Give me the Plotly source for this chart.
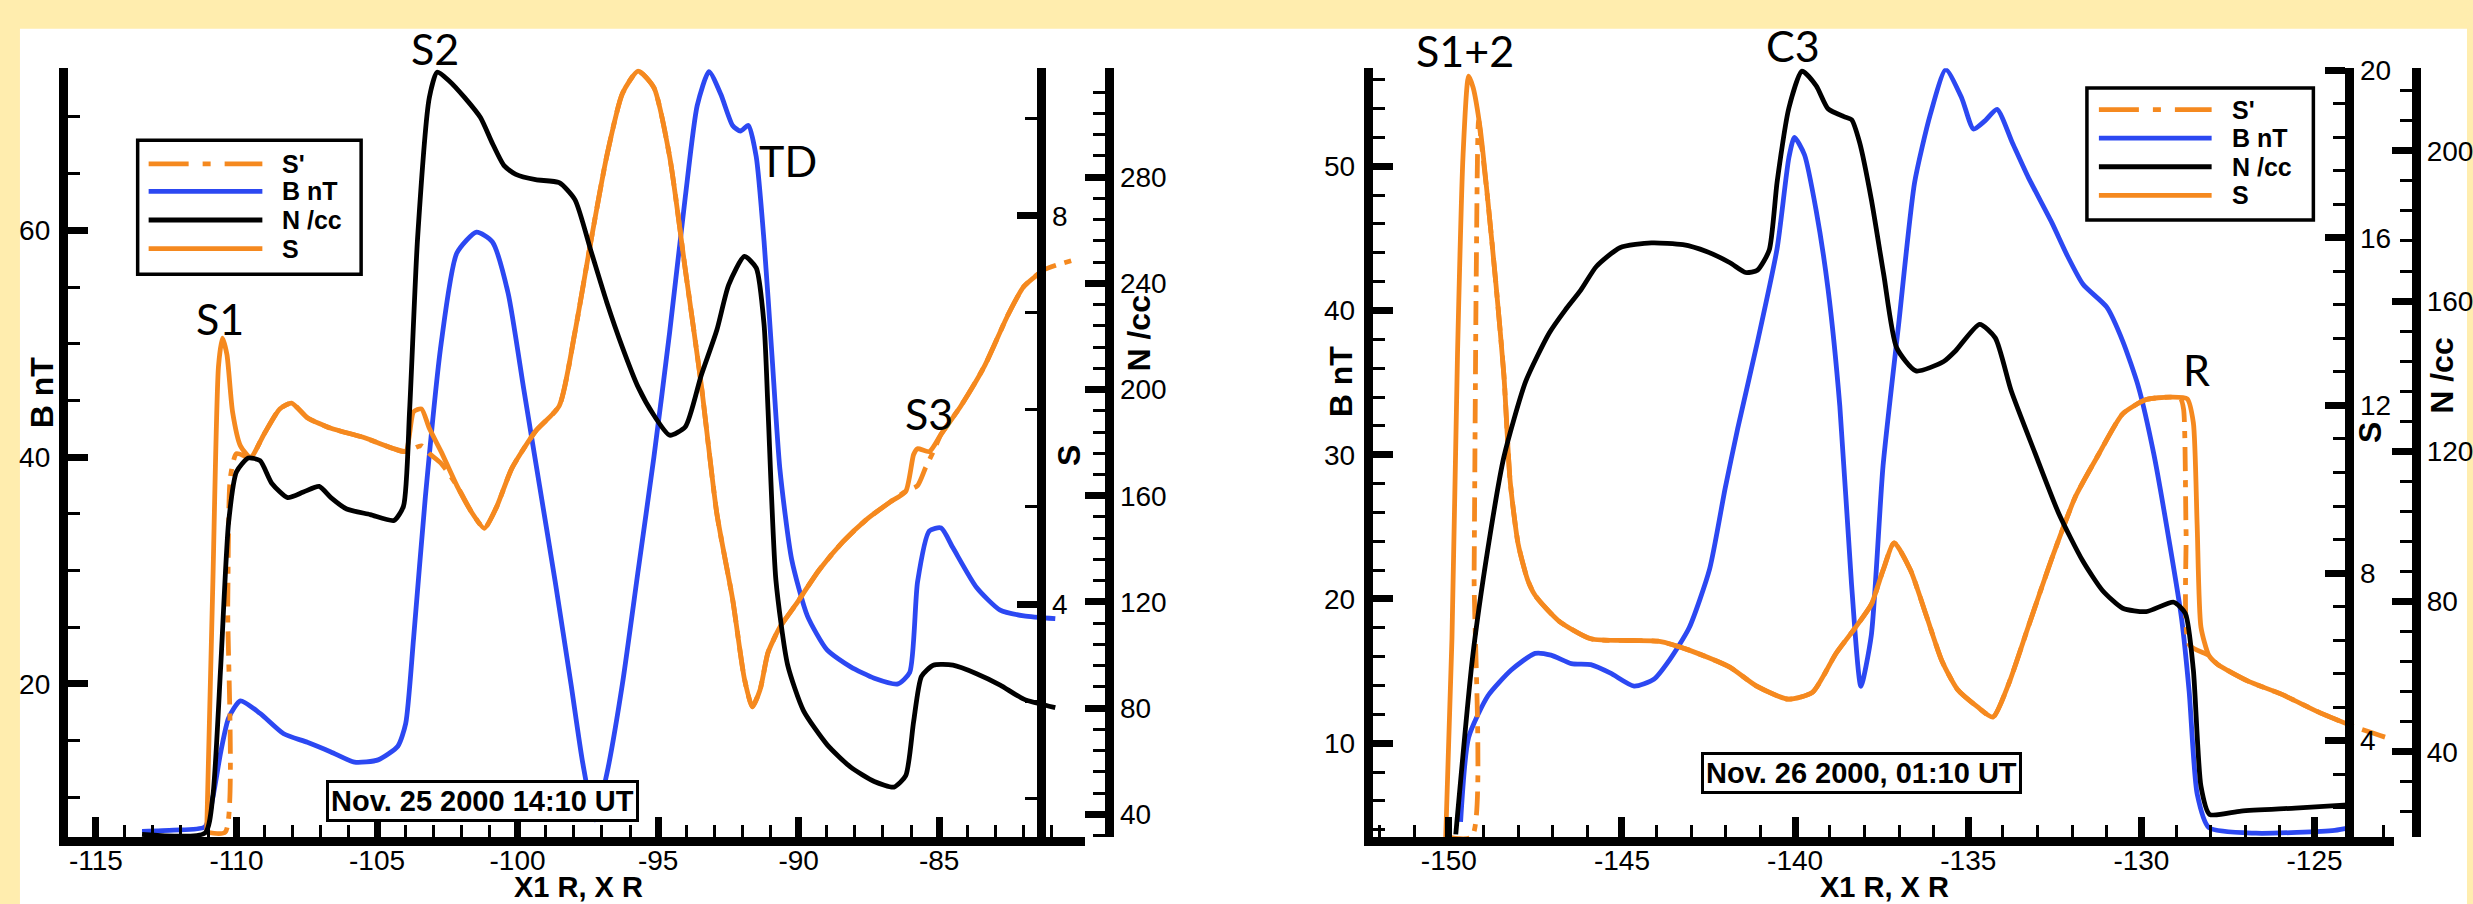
import plotly.graph_objects as go

W, H = 2473, 904

# ---------------- Left panel: Nov. 25 2000 14:10 UT ----------------
left_B_x = [-113.36, -112.24, -111.12, -110.84, -110.56, -110.28, -109.86, -109.16, -108.32, -107.48,
            -106.64, -105.8, -104.96, -104.26, -103.98, -103.70, -103.28, -102.72, -102.16, -101.46,
            -100.90, -100.34, -99.78, -99.22, -98.66, -98.10, -97.68, -97.25, -96.83, -96.27,
            -95.71, -95.15, -94.59, -94.03, -93.61, -93.19, -92.77, -92.35, -92.07, -91.79,
            -91.51, -91.23, -90.95, -90.67, -90.25, -89.69, -88.99, -88.15, -87.31, -86.47,
            -86.05, -85.77, -85.35, -84.93, -84.51, -83.67, -82.83, -81.99, -80.87]
left_B = [7.0, 7.1, 7.4, 10.0, 14.0, 17.0, 18.5, 17.4, 15.6, 14.85,
          14.0, 13.1, 13.3, 14.5, 16.5, 24, 36.5, 50, 58, 59.85,
          59, 54.5, 46, 37.5, 29, 20, 13, 8, 12, 20,
          30, 40, 51, 63, 71, 74, 72, 69.25, 68.75, 69.25,
          66.5, 59, 49, 39, 31, 26, 23, 21.5, 20.5, 20,
          21, 29, 33.5, 33.75, 32, 28.5, 26.5, 26, 25.75]

left_N_x = [-113.36, -111.12, -110.84, -110.56, -110.28, -110.0, -109.58, -109.16, -108.74, -108.18,
            -107.62, -107.06, -106.64, -106.08, -105.24, -104.40, -104.06, -103.84, -103.56, -103.14,
            -102.86, -102.44, -101.88, -101.32, -100.90, -100.48, -100.06, -99.36, -98.52, -97.96,
            -97.39, -96.83, -96.27, -95.71, -95.15, -94.59, -94.03, -93.47, -92.91, -92.49,
            -91.93, -91.51, -91.23, -91.09, -90.81, -90.39, -89.83, -88.99, -88.15, -87.31,
            -86.61, -86.19, -85.91, -85.63, -85.21, -84.51, -83.67, -82.83, -81.99, -80.87]
left_N = [32.5, 33.0, 47, 96, 150, 169, 174.2, 173.2, 164.6, 159.3,
          161.4, 163.5, 159.3, 155, 152.9, 150.7, 156, 192.4, 256.5, 309.9,
          319.5, 316.3, 309.9, 302.4, 292.8, 284.3, 281, 279, 277.9, 271.5,
          252.2, 233, 215.9, 200.9, 190.3, 182.8, 186, 205.2, 222.4, 239.4,
          250.1, 245.8, 224.4, 192.4, 128.3, 96.2, 79.1, 66.3, 57.8, 52.4,
          50.3, 54.6, 74.9, 92, 96.2, 96.2, 93, 88.7, 83.4, 80.2]

left_S_x = [-111.06, -110.84, -110.64, -110.50, -110.34, -110.14, -109.86, -109.50, -109.02, -108.46,
            -108.04, -107.48, -106.64, -105.52, -104.40, -103.98, -103.70, -103.42, -103.14, -102.72,
            -102.16, -101.60, -101.18, -100.76, -100.20, -99.36, -98.52, -97.96, -97.39, -96.83,
            -96.27, -95.71, -95.15, -94.59, -94.03, -93.47, -92.91, -92.35, -91.93, -91.65,
            -91.37, -91.09, -90.67, -90.11, -89.27, -88.43, -87.59, -86.75, -86.19, -85.91,
            -85.77, -85.35, -84.93, -84.23, -83.39, -82.55, -81.99, -81.29]
left_S = [1.65, 4.23, 6.45, 6.74, 6.57, 5.98, 5.63, 5.51, 5.75, 6.01,
          6.07, 5.92, 5.81, 5.72, 5.6, 5.57, 5.98, 6.01, 5.81, 5.57,
          5.22, 4.93, 4.78, 4.99, 5.4, 5.78, 6.04, 6.8, 7.74, 8.61,
          9.26, 9.49, 9.32, 8.61, 7.44, 6.27, 4.93, 4.05, 3.23, 2.94,
          3.12, 3.5, 3.76, 3.99, 4.35, 4.64, 4.87, 5.05, 5.16, 5.54,
          5.6, 5.57, 5.75, 6.04, 6.45, 6.98, 7.27, 7.44]

left_Sp_x = [-111.06, -110.40, -110.31, -110.22, -110.0, -109.50, -109.02, -108.46, -108.04, -107.48,
             -106.64, -105.52, -104.40, -103.98, -103.42, -103.14, -102.72, -102.16, -101.60, -101.18,
             -100.76, -100.20, -99.36, -98.52, -97.96, -97.39, -96.83, -96.27, -95.71, -95.15,
             -94.59, -94.03, -93.47, -92.91, -92.35, -91.93, -91.65, -91.37, -91.09, -90.67,
             -90.11, -89.27, -88.43, -87.59, -86.75, -86.19, -85.77, -85.49, -85.21, -84.93,
             -84.23, -83.39, -82.55, -81.99, -81.29, -80.73, -80.03]
left_Sp = [1.65, 1.65, 4.0, 5.3, 5.55, 5.51, 5.75, 6.01, 6.07, 5.92,
           5.81, 5.72, 5.6, 5.57, 5.63, 5.55, 5.45, 5.22, 4.93, 4.78,
           4.99, 5.4, 5.78, 6.04, 6.8, 7.74, 8.61, 9.26, 9.49, 9.32,
           8.61, 7.44, 6.27, 4.93, 4.05, 3.23, 2.94, 3.12, 3.5, 3.76,
           3.99, 4.35, 4.64, 4.87, 5.05, 5.16, 5.22, 5.4, 5.57, 5.75,
           6.04, 6.45, 6.98, 7.27, 7.44, 7.5, 7.56]

# ---------------- Right panel: Nov. 26 2000, 01:10 UT ----------------
right_B_x = [-149.66, -149.43, -148.87, -148.19, -147.51, -147.05, -146.46, -145.90, -145.33, -144.65,
             -144.08, -143.63, -143.06, -142.47, -142.02, -141.66, -141.09, -140.52, -140.18, -140.02,
             -139.73, -139.39, -139.05, -138.71, -138.37, -138.10, -137.80, -137.46, -137.01, -136.55,
             -136.10, -135.65, -135.19, -134.85, -134.51, -134.17, -133.72, -133.27, -132.59, -132.13,
             -131.68, -131.0, -130.54, -130.09, -129.64, -129.18, -128.84, -128.62, -128.39, -128.05,
             -126.69, -124.42, -123.97]
right_B = [4.55, 10.39, 13.29, 15.09, 16.23, 16.11, 15.52, 15.45, 14.86, 13.96,
           14.43, 15.76, 18.0, 22.07, 27.68, 31.8, 37.8, 44.3, 50.6, 52.0,
           50.8, 46.9, 41.5, 33.4, 21.0, 13.95, 17.48, 29.25, 39.05, 48.86,
           53.56, 56.7, 54.74, 52.58, 53.17, 53.95, 51.6, 49.25, 46.11, 43.76,
           41.8, 40.23, 37.88, 34.74, 30.03, 23.76, 18.66, 13.56, 6.5, 4.15,
           3.76, 3.96, 4.15]

right_N_x = [-149.80, -149.32, -148.87, -148.41, -147.78, -147.10, -146.64, -146.19, -145.74, -145.06,
             -144.15, -143.24, -142.56, -141.88, -141.43, -141.09, -140.75, -140.52, -140.18, -139.80,
             -139.39, -139.05, -138.59, -138.37, -138.14, -137.80, -137.44, -137.07, -136.51, -135.71,
             -135.37, -134.67, -134.22, -133.76, -133.08, -132.38, -131.70, -131.13, -130.54, -129.86,
             -129.07, -128.73, -128.50, -128.28, -128.03, -127.12, -125.56, -123.92]
right_N = [18.0, 64.7, 94.2, 118.5, 138.6, 151.5, 157.6, 162.9, 169.2, 174.2,
           175.5, 175.0, 173.2, 170.2, 167.6, 168.2, 173.5, 191.7, 211.4, 221.2,
           217.3, 211.2, 209.1, 208.3, 202.3, 187.1, 167.0, 147.6, 141.4, 143.9,
           146.7, 153.8, 150.2, 136.1, 119.7, 103.3, 90.9, 83.0, 78.2, 77.3,
           79.8, 76.8, 61.8, 30.8, 23.3, 24.2, 25.0, 25.9]

right_S_x = [-150.09, -149.91, -149.75, -149.59, -149.43, -149.30, -149.09, -148.87, -148.64, -148.41,
             -148.23, -148.0, -147.73, -147.51, -146.83, -145.90, -144.76, -143.92, -143.06, -141.90,
             -141.11, -140.20, -139.50, -138.82, -138.25, -137.80, -137.46, -137.14, -136.67, -136.21,
             -135.76, -135.31, -134.74, -134.29, -133.83, -133.27, -132.59, -131.90, -131.25, -130.54,
             -129.86, -129.18, -128.68, -128.50, -128.39, -128.28, -128.05, -127.80, -126.92, -125.96,
             -124.88, -123.92]
right_S = [1.7, 6.44, 13.22, 17.97, 19.86, 19.59, 18.58, 16.86, 14.9, 12.72,
           10.2, 8.7, 7.85, 7.47, 6.86, 6.43, 6.39, 6.37, 6.16, 5.76,
           5.3, 4.99, 5.15, 6.08, 6.71, 7.25, 8.07, 8.72, 8.07, 6.98,
           5.9, 5.22, 4.81, 4.56, 5.36, 6.71, 8.34, 9.83, 10.81, 11.8,
           12.14, 12.2, 12.16, 11.59, 9.15, 6.71, 6.03, 5.82, 5.42, 5.11,
           4.68, 4.35]

right_Sp_x = [-150.09, -149.34, -149.27, -149.21, -149.14, -149.05, -148.87, -148.64, -148.41, -148.23,
              -148.0, -147.73, -147.51, -146.83, -145.90, -144.76, -143.92, -143.06, -141.90, -141.11,
              -140.20, -139.50, -138.82, -138.25, -137.80, -137.46, -137.14, -136.67, -136.21, -135.76,
              -135.31, -134.74, -134.29, -133.83, -133.27, -132.59, -131.90, -131.25, -130.54, -129.86,
              -129.18, -128.87, -128.78, -128.71, -128.62, -128.05, -127.80, -126.92, -125.96, -124.88,
              -123.92, -122.95]
right_Sp = [1.7, 1.7, 8.0, 15.0, 18.8, 18.2, 16.86, 14.9, 12.72, 10.2,
            8.7, 7.85, 7.47, 6.86, 6.43, 6.39, 6.37, 6.16, 5.76, 5.3,
            4.99, 5.15, 6.08, 6.71, 7.25, 8.07, 8.72, 8.07, 6.98, 5.9,
            5.22, 4.81, 4.56, 5.36, 6.71, 8.34, 9.83, 10.81, 11.8, 12.14,
            12.2, 12.16, 11.9, 9.0, 6.29, 6.03, 5.82, 5.42, 5.11, 4.68,
            4.35, 4.08]

# ---------------- tick values / labels ----------------
left_x_major = [-115, -110, -105, -100, -95, -90, -85]
left_x_labels = ["-115", "-110", "-105", "-100", "-95", "-90", "-85"]
left_x_minor = list(range(-116, -80))
left_B_major = [20, 40, 60]
left_B_minor = [10, 15, 25, 30, 35, 45, 50, 55, 65, 70]
left_S_major = [4, 8]
left_S_minor = [2, 3, 5, 6, 7, 9]
left_N_major = [40, 80, 120, 160, 200, 240, 280]
left_N_minor = [v for v in range(32, 321, 8) if v % 40]

right_x_major = [-150, -145, -140, -135, -130, -125]
right_x_labels = ["-150", "-145", "-140", "-135", "-130", "-125"]
right_x_minor = list(range(-152, -122))
right_B_major = [10, 20, 30, 40, 50]
right_B_minor = [v for v in range(4, 57, 2) if v % 10]
right_S_major = [4, 8, 12, 16, 20]
right_S_minor = [round(2.4 + 0.8 * k, 2) for k in range(23) if round((2.4 + 0.8 * k) % 4, 2) not in (0.0, 4.0)]
right_N_major = [40, 80, 120, 160, 200]
right_N_minor = [v for v in range(24, 217, 8) if v % 40]

ORANGE = "#F5891F"
BLUE = "#2C48F2"
BLACK = "#000000"
FONT = "Liberation Sans, Arial, sans-serif"
TICKFONT = dict(family=FONT, size=28, color="black")


def px(xp):
    return xp / W


def py(yp):
    return 1 - yp / H


YDOM = [py(836), py(56)]


def axis(major, labels, minor, rng, **kw):
    d = dict(range=rng, tickmode="array", tickvals=major, ticktext=labels,
             showline=True, linecolor="black", linewidth=9,
             ticks="inside", ticklen=20, tickwidth=7, tickcolor="black",
             showgrid=False, zeroline=False, tickfont=TICKFONT, fixedrange=True,
             minor=dict(tickmode="array", tickvals=minor, ticks="inside", ticklen=12,
                        tickwidth=3, tickcolor="black", showgrid=False))
    d.update(kw)
    return d


fig = go.Figure()


def line(x, y, xa, ya, color, name, dash="solid"):
    fig.add_trace(go.Scatter(x=x, y=y, xaxis=xa, yaxis=ya, mode="lines", name=name,
                             line=dict(color=color, width=4.8, dash=dash, shape="spline", smoothing=0.6),
                             showlegend=False, hoverinfo="skip"))


SPDASH = "24px,9px,7px,9px"
# left panel
line(left_N_x, left_N, "x", "y3", BLACK, "N /cc")
line(left_B_x, left_B, "x", "y", BLUE, "B nT")
line(left_S_x, left_S, "x", "y2", ORANGE, "S")
line(left_Sp_x, left_Sp, "x", "y2", ORANGE, "S'", SPDASH)
# right panel
line(right_N_x, right_N, "x2", "y6", BLACK, "N /cc")
line(right_B_x, right_B, "x2", "y4", BLUE, "B nT")
line(right_S_x, right_S, "x2", "y5", ORANGE, "S")
line(right_Sp_x, right_Sp, "x2", "y5", ORANGE, "S'", SPDASH)

layout = dict(
    width=W, height=H, margin=dict(l=0, r=0, t=0, b=0),
    paper_bgcolor="#FFEDAE", plot_bgcolor="rgba(0,0,0,0)", showlegend=False,
    xaxis=axis(left_x_major, left_x_labels, left_x_minor, [-116.0, -79.8],
               domain=[px(68), px(1088)], anchor="y", ticklabelstandoff=-10),
    yaxis=axis(left_B_major, [str(v) for v in left_B_major], left_B_minor, [6.5, 74.3],
               domain=YDOM, anchor="x", side="left", ticklabelstandoff=3),
    yaxis2=axis(left_S_major, [str(v) for v in left_S_major], left_S_minor, [1.6, 9.52],
                overlaying="y", anchor="free", position=px(1044), side="right"),
    yaxis3=axis(left_N_major, [str(v) for v in left_N_major], left_N_minor, [31.5, 321],
                overlaying="y", anchor="free", position=px(1112), side="right"),
    xaxis2=axis(right_x_major, right_x_labels, right_x_minor, [-152.2, -122.7],
                domain=[px(1376), px(2400)], anchor="y4", ticklabelstandoff=-10),
    yaxis4=axis(right_B_major, [str(v) for v in right_B_major], right_B_minor, [3.5, 56.8],
                domain=YDOM, anchor="x2", side="left", ticklabelstandoff=3),
    yaxis5=axis(right_S_major, [str(v) for v in right_S_major], right_S_minor, [1.7, 20.05],
                overlaying="y4", anchor="free", position=px(2355), side="right"),
    yaxis6=axis(right_N_major, [str(v) for v in right_N_major], right_N_minor, [17.3, 222],
                overlaying="y4", anchor="free", position=px(2422), side="right"),
)
fig.update_layout(**layout)

shapes = [dict(type="rect", xref="paper", yref="paper", x0=px(20), x1=1, y0=0, y1=py(16),
               fillcolor="white", line=dict(width=0), layer="below")]
annotations = []


def legend(box, lx0, lx1, tx, rows):
    x0, y0, x1, y1 = box
    shapes.append(dict(type="rect", xref="paper", yref="paper", x0=px(x0), x1=px(x1), y0=py(y1), y1=py(y0),
                       fillcolor="white", line=dict(color="black", width=3.5), layer="above"))
    items = [("S'", ORANGE, "40px,14px,8px,14px"), ("B nT", BLUE, "solid"),
             ("N /cc", BLACK, "solid"), ("S", ORANGE, "solid")]
    for (name, col, dash), ry in zip(items, rows):
        shapes.append(dict(type="line", xref="paper", yref="paper", x0=px(lx0), x1=px(lx1),
                           y0=py(ry), y1=py(ry), line=dict(color=col, width=4.8, dash=dash), layer="above"))
        annotations.append(dict(xref="paper", yref="paper", x=px(tx), y=py(ry), text="<b>%s</b>" % name,
                                showarrow=False, xanchor="left", yanchor="middle",
                                font=dict(family=FONT, size=25, color="black")))


legend((138, 129, 362, 265), 149, 263, 281, [153, 181, 210, 239])
legend((2092, 76, 2319, 210), 2104, 2217, 2235, [98, 127, 156, 185])


def text(x, y, s, size=32, angle=0, family=FONT, bold=True, yanchor="middle", **kw):
    annotations.append(dict(xref="paper", yref="paper", x=px(x), y=py(y),
                            text=("<b>%s</b>" % s) if bold else s, showarrow=False,
                            textangle=angle, xanchor="center", yanchor=yanchor,
                            font=dict(family=family, size=size, color="black"), **kw))


# axis titles
text(43, 385, "B nT", angle=-90)
text(1071, 449, "S", angle=-90)
text(1142, 325, "N /cc", angle=-90)
text(580, 904, "X1 R, X R", size=29, yanchor="bottom", borderpad=0)
text(1344, 374, "B nT", angle=-90)
text(2376, 426, "S", angle=-90)
text(2448, 368, "N /cc", angle=-90)
text(1889, 904, "X1 R, X R", size=29, yanchor="bottom", borderpad=0)

# event labels
LBL = "Lato, Open Sans, sans-serif"
for (x, y, s) in [(221, 310, "S1"), (436, 36, "S2"), (790, 150, "TD"), (931, 406, "S3"),
                  (1469, 38, "S1+2"), (1797, 33, "C3"), (2202, 362, "R")]:
    text(x, y, s, size=43, family=LBL, bold=False)

# date boxes
text(484, 800, "Nov. 25 2000 14:10 UT", size=29, bgcolor="white", bordercolor="black",
     borderwidth=3, borderpad=2)
text(1866, 771, "Nov. 26 2000, 01:10 UT", size=29, bgcolor="white", bordercolor="black",
     borderwidth=3, borderpad=2)

fig.update_layout(shapes=shapes, annotations=annotations)
fig.write_html("out.html")
